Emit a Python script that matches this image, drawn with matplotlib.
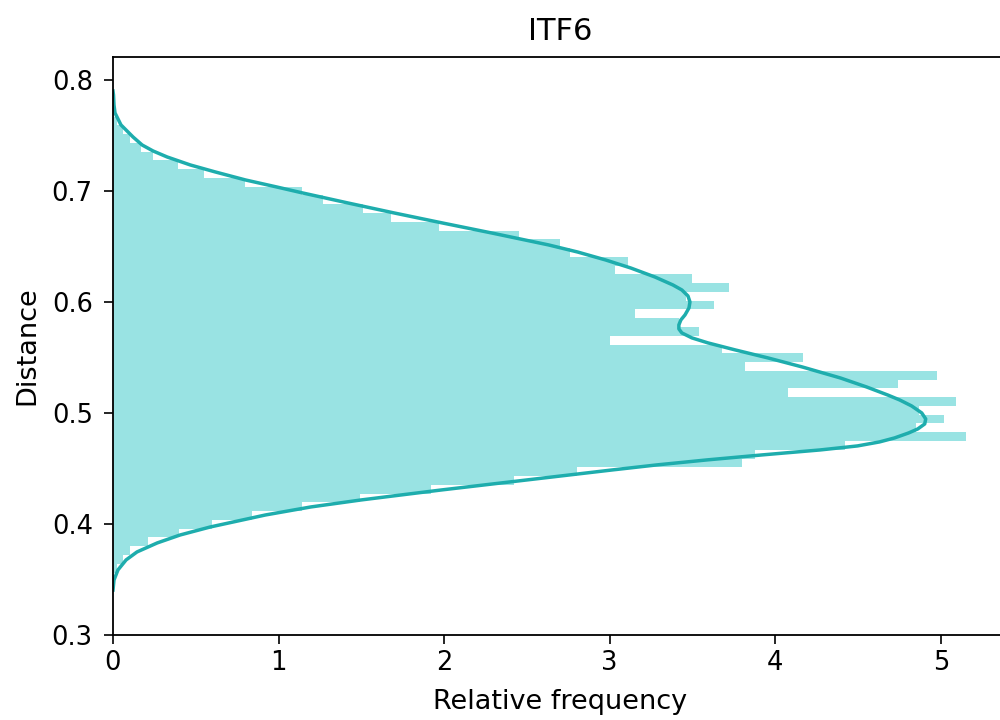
import numpy as np
import matplotlib
matplotlib.use("Agg")
import matplotlib.pyplot as plt

# histogram bins (distance)
bin_start = 0.34835
bin_width = 0.0079
bar_freq = [0.008, 0.025, 0.06, 0.10, 0.21, 0.40, 0.60, 0.84, 1.14, 1.49,
            1.92, 2.42, 2.80, 3.80, 3.88, 4.42, 5.15, 4.85, 5.02, 4.87,
            5.09, 4.08, 4.74, 4.98, 3.82, 4.17, 3.68, 3.00, 3.54, 3.42,
            3.15, 3.63, 3.46, 3.72, 3.50, 3.03, 3.11, 2.76, 2.70, 2.45,
            1.97, 1.68, 1.51, 1.27, 1.14, 0.80, 0.55, 0.39, 0.24, 0.17,
            0.10, 0.06, 0.025, 0.008]

# kde curve points (distance, density)
kde_dist = [0.7900, 0.7865, 0.7775, 0.7703, 0.7595, 0.7486, 0.7414, 0.7360,
            0.7306, 0.7234, 0.7171, 0.7099, 0.7036, 0.6982, 0.6892, 0.6802,
            0.6712, 0.6622, 0.6514, 0.6450, 0.6378, 0.6306, 0.6225, 0.6153,
            0.6108, 0.6054, 0.6000, 0.5946, 0.5883, 0.5838, 0.5793, 0.5757,
            0.5721, 0.5676, 0.5631, 0.5568, 0.5495, 0.5414, 0.5315, 0.5234,
            0.5162, 0.5117, 0.5063, 0.5000, 0.4946, 0.4901, 0.4856, 0.4820,
            0.4775, 0.4739, 0.4703, 0.4667, 0.4622, 0.4577, 0.4532, 0.4486,
            0.4396, 0.4306, 0.4261, 0.4216, 0.4153, 0.4081, 0.3973, 0.3901,
            0.3829, 0.3748, 0.3676, 0.3586, 0.3495, 0.3405]
kde_dens = [0.0, 0.003, 0.006, 0.012, 0.048, 0.121, 0.176, 0.242,
            0.327, 0.467, 0.618, 0.800, 0.988, 1.145, 1.418, 1.697,
            1.988, 2.285, 2.630, 2.806, 2.976, 3.127, 3.273, 3.382,
            3.436, 3.473, 3.485, 3.479, 3.455, 3.430, 3.418, 3.418,
            3.436, 3.497, 3.594, 3.758, 3.958, 4.164, 4.394, 4.552,
            4.679, 4.752, 4.824, 4.885, 4.909, 4.903, 4.861, 4.806,
            4.721, 4.630, 4.497, 4.273, 3.921, 3.588, 3.285, 3.012,
            2.497, 1.982, 1.739, 1.497, 1.194, 0.921, 0.588, 0.406,
            0.267, 0.145, 0.079, 0.030, 0.006, 0.0]

x_ticks = [0, 1, 2, 3, 4, 5]
y_ticks = [0.3, 0.4, 0.5, 0.6, 0.7, 0.8]

fill_color = "#99e3e3"
line_color = "#1eadad"

fig = plt.figure(figsize=(10, 7.2), dpi=100)
ax = fig.add_axes([0.113, 0.1181, 0.894, 0.8028])

centers = bin_start + bin_width * (np.arange(len(bar_freq)) + 0.5)
ax.barh(centers, bar_freq, height=bin_width, color=fill_color, linewidth=0)
ax.plot(kde_dens, kde_dist, color=line_color, linewidth=2.5,
        solid_joinstyle="round")

ax.set_xlim(0, 5.4)
ax.set_ylim(0.3, 0.8207)
ax.set_xticks(x_ticks)
ax.set_yticks(y_ticks)
ax.set_xticklabels([str(t) for t in x_ticks])
ax.set_yticklabels(["%.1f" % t for t in y_ticks])
ax.tick_params(labelsize=18.5, length=6.5, width=1.2)
ax.tick_params(axis="y", pad=8)
ax.tick_params(axis="x", pad=4)
for s in ax.spines.values():
    s.set_linewidth(1.3)

ax.set_xlabel("Relative frequency", fontsize=19.5, labelpad=10)
ax.set_ylabel("Distance", fontsize=19.5, labelpad=8)
ax.set_title("ITF6", fontsize=22, pad=12)

fig.savefig("out.png", dpi=100)
